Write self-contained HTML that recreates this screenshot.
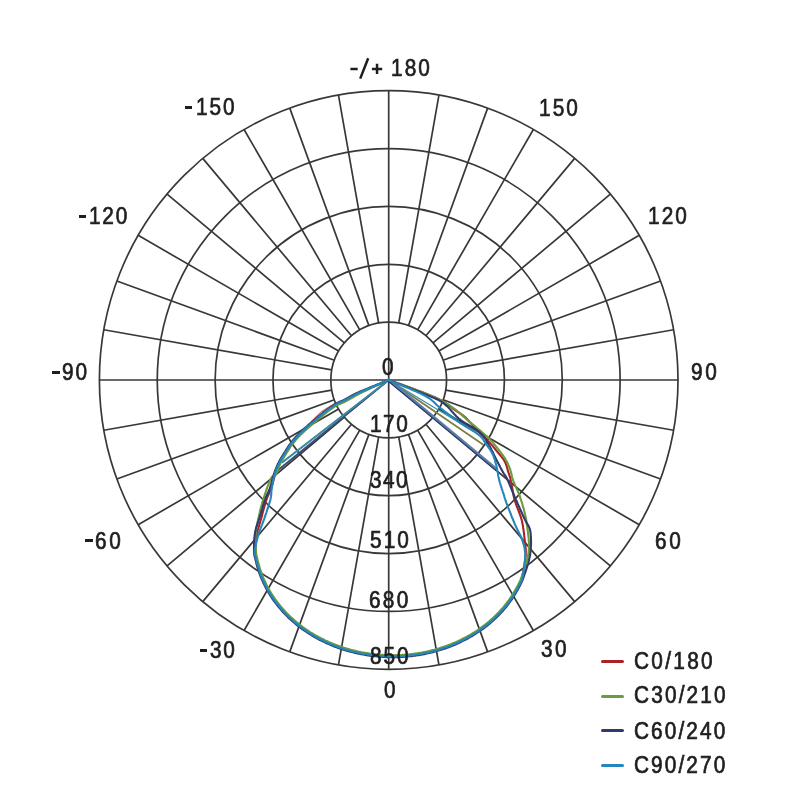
<!DOCTYPE html>
<html><head><meta charset="utf-8"><style>
html,body{margin:0;padding:0;background:#fff;}
body{width:800px;height:800px;position:relative;overflow:hidden;font-family:"Liberation Sans",sans-serif;}
svg{position:absolute;left:0;top:0;}
.t{position:absolute;font-size:23.1px;line-height:24px;color:#1e1e1e;white-space:nowrap;-webkit-text-stroke:0.7px #1e1e1e;transform-origin:0 0;}
</style></head><body>
<svg width="800" height="800" viewBox="0 0 800 800">
<circle cx="388.7" cy="380.0" r="57.86" fill="none" stroke="#383838" stroke-width="1.7"/>
<circle cx="388.7" cy="380.0" r="115.72" fill="none" stroke="#383838" stroke-width="1.7"/>
<circle cx="388.7" cy="380.0" r="173.58" fill="none" stroke="#383838" stroke-width="1.7"/>
<circle cx="388.7" cy="380.0" r="231.44" fill="none" stroke="#383838" stroke-width="1.7"/>
<circle cx="388.7" cy="380.0" r="289.30" fill="none" stroke="#383838" stroke-width="1.7"/>
<path d="M445.68 390.05L673.60 430.24M443.07 399.79L660.55 478.95M438.81 408.93L639.24 524.65M433.02 417.19L610.32 565.96M425.89 424.32L574.66 601.62M417.63 430.11L533.35 630.54M408.49 434.37L487.65 651.85M398.75 436.98L438.94 664.90M378.65 436.98L338.46 664.90M368.91 434.37L289.75 651.85M359.77 430.11L244.05 630.54M351.51 424.32L202.74 601.62M344.38 417.19L167.08 565.96M338.59 408.93L138.16 524.65M334.33 399.79L116.85 478.95M331.72 390.05L103.80 430.24M331.72 369.95L103.80 329.76M334.33 360.21L116.85 281.05M338.59 351.07L138.16 235.35M344.38 342.81L167.08 194.04M351.51 335.68L202.74 158.38M359.77 329.89L244.05 129.46M368.91 325.63L289.75 108.15M378.65 323.02L338.46 95.10M398.75 323.02L438.94 95.10M408.49 325.63L487.65 108.15M417.63 329.89L533.35 129.46M425.89 335.68L574.66 158.38M433.02 342.81L610.32 194.04M438.81 351.07L639.24 235.35M443.07 360.21L660.55 281.05M445.68 369.95L673.60 329.76M99.40 380.0L678.00 380.0M388.7 90.70L388.7 669.30" fill="none" stroke="#383838" stroke-width="1.7"/>
<path d="M388.70 380.00L283.50 461.20" fill="none" stroke="#6c9c3c" stroke-width="1.2" stroke-linejoin="round" stroke-linecap="round" opacity="1"/>
<path d="M388.70 380.60L277.00 471.60" fill="none" stroke="#a82228" stroke-width="1.0" stroke-linejoin="round" stroke-linecap="round" opacity="0.8"/>
<path d="M388.70 380.00L277.00 471.00" fill="none" stroke="#34507a" stroke-width="1.8" stroke-linejoin="round" stroke-linecap="round" opacity="1"/>
<path d="M388.70 380.00L282.50 462.30" fill="none" stroke="#3a8aa6" stroke-width="2.0" stroke-linejoin="round" stroke-linecap="round" opacity="1"/>
<path d="M388.70 380.00L483.00 444.50" fill="none" stroke="#7d7f45" stroke-width="1.8" stroke-linejoin="round" stroke-linecap="round" opacity="1"/>
<path d="M388.70 380.00L478.00 434.00" fill="none" stroke="#3f8fa8" stroke-width="1.4" stroke-linejoin="round" stroke-linecap="round" opacity="1"/>
<path d="M388.70 380.00L496.00 469.00" fill="none" stroke="#5a7fa5" stroke-width="3.2" stroke-linejoin="round" stroke-linecap="round" opacity="1"/>
<path d="M388.70 381.50L496.00 470.50" fill="none" stroke="#2f3b6c" stroke-width="1.2" stroke-linejoin="round" stroke-linecap="round" opacity="1"/>
<path d="M388.7 380.0L387.9 380.4L386.9 380.8L385.8 381.3L384.6 381.8L383.2 382.4L381.8 383.0L380.3 383.7L378.7 384.4L377.0 385.1L375.3 385.9L373.6 386.6L371.9 387.4L370.2 388.1L368.6 388.8L367.0 389.6L365.4 390.3L363.9 390.9L362.5 391.6L361.3 392.2L360.1 392.7L358.2 393.6L356.5 394.5L354.9 395.3L353.5 396.1L352.2 396.8L350.9 397.5L349.8 398.2L348.6 398.9L347.5 399.5L346.3 400.1L345.1 400.8L343.6 401.5L342.1 402.2L340.8 402.8L339.5 403.3L338.2 403.9L336.9 404.5L335.5 405.3L333.9 406.3L332.8 407.0L331.7 407.8L330.5 408.6L329.3 409.5L328.1 410.4L326.8 411.4L325.5 412.4L324.2 413.4L322.9 414.5L321.6 415.5L320.3 416.6L318.9 417.7L317.8 418.6L316.7 419.6L315.5 420.6L314.3 421.6L313.1 422.6L311.8 423.7L310.6 424.8L309.4 425.8L308.1 426.9L307.0 427.9L305.8 429.0L304.7 430.0L303.6 430.9L302.6 431.8L301.7 432.7L300.3 434.1L299.0 435.4L297.8 436.6L296.8 437.8L295.8 438.9L294.8 440.0L294.0 441.0L293.1 442.1L292.2 443.2L291.2 444.5L290.3 445.8L289.5 447.0L288.7 448.3L287.9 449.5L287.1 450.8L286.3 452.2L285.5 453.4L284.6 454.7L283.8 456.1L283.0 457.4L282.1 458.8L281.3 460.2L280.6 461.6L279.9 462.9L279.2 464.3L278.6 465.6L278.0 467.0L277.4 468.3L276.9 469.7L276.3 471.1L275.8 472.6L275.3 474.1L274.8 475.5L274.4 477.0L273.9 478.6L273.5 480.2L273.1 481.8L272.7 483.5L272.2 485.1L271.8 486.6L271.3 488.1L270.7 489.7L270.1 491.1L269.5 492.5L268.8 493.9L268.2 495.3L267.6 496.7L266.9 498.3L266.3 500.1L265.9 501.4L265.4 502.8L265.0 504.2L264.6 505.7L264.2 507.3L263.7 508.9L263.3 510.5L262.9 512.1L262.5 513.6L262.1 515.2L261.7 516.7L261.3 518.1L260.8 519.7L260.4 521.2L260.0 522.7L259.5 524.2L259.1 525.6L258.7 527.0L258.3 528.4L257.9 529.9L257.6 531.4L257.3 533.1L257.0 534.5L256.8 536.0L256.6 537.6L256.4 539.2L256.1 540.9L256.0 542.6L255.8 544.2L255.6 545.8L255.5 547.3L255.4 548.7L255.3 550.0L255.3 551.1L255.3 553.3L255.6 554.9L255.9 556.2L256.3 557.4L256.6 558.8L257.0 560.3L257.3 561.8L257.7 563.3L258.1 564.8L258.5 566.3L258.9 567.7L259.4 569.2L259.9 570.6L260.3 572.1L260.9 573.5L261.4 574.9L261.9 576.3L262.5 577.7L263.1 579.1L263.7 580.4L264.4 582.1L265.2 583.8L266.1 585.4L266.9 587.1L267.8 588.7L268.7 590.3L269.6 591.9L270.6 593.5L271.5 595.0L272.5 596.5L273.5 598.0L274.6 599.5L275.6 601.0L276.7 602.5L277.8 603.9L278.9 605.3L280.1 606.7L281.3 608.1L282.4 609.5L283.7 610.8L284.9 612.1L286.1 613.4L287.4 614.7L288.7 616.0L290.0 617.2L291.3 618.4L292.6 619.6L293.9 620.8L295.3 622.0L296.7 623.1L298.1 624.3L299.5 625.4L300.9 626.5L302.3 627.5L303.8 628.6L305.3 629.6L306.7 630.6L308.2 631.6L309.7 632.6L311.3 633.6L312.8 634.5L314.3 635.4L315.9 636.3L317.5 637.2L319.0 638.0L320.6 638.8L322.2 639.7L323.8 640.4L325.4 641.2L327.1 642.0L328.7 642.7L330.4 643.4L332.0 644.1L333.7 644.8L335.3 645.4L337.0 646.1L338.7 646.7L340.4 647.3L342.1 647.9L343.8 648.4L345.5 648.9L347.3 649.5L349.0 650.0L350.7 650.4L352.5 650.9L354.2 651.3L356.0 651.7L357.7 652.1L359.5 652.5L361.3 652.9L363.0 653.2L364.8 653.5L366.6 653.8L368.4 654.1L370.1 654.3L371.9 654.6L373.7 654.8L375.5 655.0L377.3 655.2L379.1 655.3L380.9 655.5L382.7 655.6L384.5 655.7L386.3 655.8L388.1 655.8L389.9 655.9L391.7 655.9L393.5 655.9L395.3 655.9L397.1 655.8L398.9 655.8L400.7 655.7L402.5 655.6L404.3 655.5L406.1 655.3L407.9 655.2L409.7 655.0L411.5 654.8L413.3 654.6L415.1 654.3L416.9 654.1L418.7 653.8L420.4 653.5L422.2 653.2L424.0 652.8L425.8 652.5L427.5 652.1L429.3 651.7L431.0 651.3L432.8 650.8L434.5 650.4L436.3 649.9L438.0 649.4L439.7 648.9L441.4 648.3L443.1 647.8L444.8 647.2L446.5 646.6L448.2 646.0L449.9 645.3L451.6 644.7L453.2 644.0L454.9 643.3L456.5 642.6L458.2 641.8L459.8 641.1L461.4 640.3L463.0 639.5L464.6 638.6L466.2 637.8L467.8 636.9L469.4 636.1L470.9 635.2L472.5 634.2L474.0 633.3L475.5 632.3L477.0 631.4L478.5 630.4L480.0 629.3L481.4 628.3L482.9 627.2L484.3 626.2L485.8 625.1L487.2 623.9L488.6 622.8L489.9 621.6L491.3 620.5L492.6 619.3L493.9 618.0L495.3 616.8L496.5 615.5L497.8 614.3L499.1 613.0L500.3 611.6L501.5 610.3L502.7 608.9L503.9 607.6L505.1 606.2L506.2 604.8L507.3 603.3L508.4 601.9L509.5 600.4L510.5 598.9L511.5 597.4L512.6 595.9L513.5 594.3L514.5 592.8L515.4 591.2L516.3 589.6L517.2 588.0L518.1 586.3L518.9 584.7L519.7 583.3L520.4 582.3L521.2 580.7L522.0 577.9L522.2 576.8L522.5 575.6L522.7 574.2L523.0 572.8L523.3 571.2L523.6 569.5L523.9 567.8L524.2 566.1L524.5 564.3L524.8 562.6L525.0 560.9L525.2 559.3L525.4 557.8L525.6 556.3L525.7 555.0L525.8 553.2L525.8 551.6L525.8 550.1L525.7 548.7L525.6 547.3L525.5 546.0L525.3 544.7L525.1 543.2L524.9 541.7L524.7 540.0L524.5 538.7L524.4 537.2L524.2 535.8L524.1 534.2L523.9 532.7L523.7 531.1L523.5 529.6L523.2 528.0L523.0 526.4L522.7 524.8L522.4 523.2L522.1 521.6L521.7 520.1L521.3 518.7L520.9 517.2L520.4 515.8L519.9 514.4L519.4 513.0L518.8 511.5L518.3 510.1L517.7 508.7L517.2 507.3L516.6 505.8L516.1 504.4L515.6 503.0L515.1 501.5L514.7 500.1L514.3 498.5L513.9 496.9L513.5 495.2L513.2 493.5L512.9 491.8L512.6 490.1L512.3 488.4L512.0 486.8L511.7 485.3L511.4 483.8L511.2 482.4L510.9 481.2L510.7 480.1L510.2 477.8L509.8 476.4L509.4 475.3L509.0 474.1L508.5 472.6L508.0 471.2L507.6 469.6L507.2 467.9L506.7 466.3L506.1 464.6L505.5 462.9L504.7 461.4L504.0 460.1L503.1 458.9L502.2 457.6L501.3 456.4L500.2 455.2L499.2 454.0L498.2 452.9L497.3 451.7L496.2 450.4L495.2 449.1L494.2 447.9L493.2 446.7L492.2 445.4L491.0 444.1L489.8 442.7L488.8 441.7L487.8 440.7L486.8 439.6L485.7 438.5L484.6 437.4L483.4 436.3L482.2 435.2L481.0 434.0L479.8 432.7L478.5 431.5L477.5 430.4L476.5 429.3L475.4 428.1L474.3 426.9L473.2 425.7L472.0 424.4L470.9 423.2L469.7 422.0L468.6 420.8L467.5 419.6L466.5 418.6L465.5 417.6L464.6 416.7L463.0 415.4L461.5 414.3L460.2 413.4L459.0 412.6L457.7 411.8L456.3 411.0L454.8 410.0L453.6 409.1L452.4 408.2L451.2 407.2L450.0 406.2L448.7 405.2L447.4 404.2L445.9 403.2L444.5 402.2L442.9 401.3L441.7 400.6L440.6 400.0L439.5 399.5L438.4 398.9L437.2 398.4L436.0 397.8L434.8 397.3L433.4 396.7L432.0 396.1L430.4 395.5L428.7 394.8L426.9 394.1L424.9 393.3L423.8 392.8L422.5 392.3L421.2 391.8L419.7 391.3L418.2 390.7L416.7 390.2L415.1 389.6L413.4 388.9L411.7 388.3L410.0 387.7L408.3 387.1L406.5 386.4L404.8 385.8L403.1 385.2L401.5 384.6L399.8 384.0L398.2 383.4L396.7 382.9L395.3 382.4L393.9 381.9L392.6 381.4L391.5 381.0L390.4 380.6L389.5 380.3L388.7 380.0" fill="none" stroke="#a82228" stroke-width="2.1" stroke-linejoin="round" stroke-linecap="round" opacity="1"/>
<path d="M388.7 380.0L387.9 380.4L386.9 380.8L385.9 381.3L384.6 381.9L383.3 382.5L381.8 383.1L380.3 383.8L378.7 384.6L377.1 385.3L375.4 386.1L373.7 386.9L372.1 387.6L370.4 388.4L368.7 389.2L367.1 389.9L365.6 390.7L364.1 391.4L362.7 392.0L361.5 392.6L360.3 393.2L358.5 394.2L356.8 395.0L355.3 395.9L353.8 396.7L352.5 397.5L351.3 398.2L350.1 398.8L348.9 399.5L347.8 400.1L346.6 400.8L345.5 401.4L343.9 402.2L342.4 402.8L341.1 403.4L339.8 403.9L338.5 404.5L337.2 405.1L335.8 405.9L334.3 406.8L333.2 407.6L332.1 408.3L330.9 409.2L329.7 410.1L328.5 411.0L327.2 411.9L326.0 412.9L324.7 414.0L323.4 415.0L322.1 416.1L320.7 417.2L319.4 418.3L318.3 419.2L317.1 420.1L316.0 421.1L314.8 422.1L313.5 423.2L312.3 424.2L311.1 425.3L309.8 426.4L308.6 427.4L307.4 428.5L306.3 429.5L305.2 430.5L304.1 431.4L303.1 432.4L302.2 433.2L300.8 434.6L299.5 435.9L298.4 437.1L297.3 438.2L296.3 439.3L295.4 440.4L294.5 441.5L293.6 442.6L292.8 443.6L291.8 444.9L290.9 446.2L290.0 447.4L289.3 448.6L288.5 449.9L287.7 451.2L286.8 452.5L286.1 453.8L285.2 455.1L284.4 456.4L283.6 457.8L282.7 459.1L282.0 460.5L281.2 461.9L280.5 463.2L279.9 464.6L279.3 466.1L278.7 467.6L278.2 469.2L277.6 470.7L277.1 472.1L276.5 473.4L275.8 474.6L274.3 475.9L273.0 476.3L272.2 476.6L270.8 478.5L270.5 479.4L270.0 480.4L269.5 481.7L268.9 483.0L268.4 484.4L267.8 485.9L267.2 487.5L266.7 489.2L266.1 490.8L265.5 492.5L264.9 494.1L264.4 495.8L263.9 497.3L263.4 498.9L263.0 500.3L262.5 501.9L262.0 503.5L261.6 505.1L261.1 506.7L260.7 508.3L260.3 509.9L259.9 511.5L259.6 513.0L259.2 514.5L258.9 516.0L258.6 517.4L258.3 518.8L258.0 520.2L257.6 521.9L257.3 523.5L257.0 525.0L256.7 526.5L256.4 527.9L256.2 529.3L255.9 530.7L255.8 532.1L255.6 533.6L255.5 535.1L255.4 536.6L255.4 538.3L255.4 540.0L255.4 541.8L255.5 543.5L255.6 545.2L255.7 546.8L255.8 548.4L255.9 549.8L256.0 551.1L256.2 553.1L256.4 554.7L256.7 556.0L257.0 557.3L257.3 558.7L257.6 560.2L258.0 561.7L258.4 563.1L258.8 564.6L259.2 566.1L259.6 567.5L260.0 569.0L260.5 570.4L261.0 571.8L261.5 573.2L262.0 574.6L262.6 576.0L263.1 577.4L263.7 578.8L264.3 580.1L265.1 581.8L265.9 583.5L266.7 585.1L267.5 586.7L268.4 588.4L269.3 590.0L270.2 591.5L271.1 593.1L272.1 594.6L273.1 596.1L274.1 597.6L275.1 599.1L276.2 600.6L277.3 602.0L278.4 603.5L279.5 604.9L280.6 606.3L281.8 607.6L283.0 609.0L284.2 610.3L285.4 611.6L286.6 612.9L287.9 614.2L289.1 615.5L290.4 616.7L291.7 617.9L293.1 619.1L294.4 620.3L295.8 621.5L297.1 622.6L298.5 623.7L299.9 624.8L301.3 625.9L302.8 627.0L304.2 628.0L305.7 629.1L307.1 630.1L308.6 631.0L310.1 632.0L311.6 633.0L313.2 633.9L314.7 634.8L316.2 635.7L317.8 636.5L319.4 637.4L320.9 638.2L322.5 639.0L324.1 639.8L325.7 640.6L327.4 641.3L329.0 642.1L330.6 642.8L332.3 643.5L333.9 644.1L335.6 644.8L337.3 645.4L339.0 646.0L340.6 646.6L342.3 647.2L344.0 647.7L345.7 648.3L347.5 648.8L349.2 649.3L350.9 649.8L352.6 650.2L354.4 650.6L356.1 651.1L357.9 651.5L359.6 651.8L361.4 652.2L363.1 652.5L364.9 652.8L366.7 653.1L368.5 653.4L370.2 653.7L372.0 653.9L373.8 654.1L375.6 654.3L377.4 654.5L379.2 654.6L380.9 654.8L382.7 654.9L384.5 655.0L386.3 655.1L388.1 655.1L389.9 655.2L391.7 655.2L393.5 655.2L395.3 655.2L397.1 655.1L398.9 655.1L400.7 655.0L402.5 654.9L404.3 654.8L406.1 654.6L407.9 654.5L409.7 654.3L411.4 654.1L413.2 653.9L415.0 653.6L416.8 653.4L418.6 653.1L420.3 652.8L422.1 652.5L423.9 652.1L425.6 651.8L427.4 651.4L429.1 651.0L430.9 650.6L432.6 650.1L434.3 649.7L436.1 649.2L437.8 648.7L439.5 648.2L441.2 647.6L442.9 647.1L444.6 646.5L446.3 645.9L448.0 645.3L449.7 644.7L451.3 644.0L453.0 643.3L454.6 642.6L456.3 641.9L457.9 641.2L459.5 640.4L461.1 639.6L462.7 638.8L464.3 638.0L465.9 637.2L467.5 636.3L469.0 635.5L470.6 634.6L472.1 633.6L473.6 632.7L475.1 631.8L476.6 630.8L478.1 629.8L479.6 628.8L481.0 627.7L482.5 626.7L483.9 625.6L485.3 624.5L486.7 623.4L488.1 622.3L489.5 621.1L490.8 619.9L492.2 618.7L493.5 617.5L494.8 616.3L496.1 615.0L497.3 613.8L498.6 612.5L499.8 611.2L501.0 609.8L502.2 608.5L503.4 607.1L504.5 605.7L505.6 604.3L506.7 602.9L507.8 601.5L508.9 600.0L509.9 598.5L511.0 597.0L512.0 595.5L512.9 594.0L513.9 592.4L514.8 590.8L515.7 589.2L516.6 587.6L517.5 586.0L518.3 584.4L519.0 582.9L519.7 581.7L520.4 580.1L521.3 577.6L521.7 576.5L522.1 575.3L522.6 573.9L523.2 572.4L523.7 570.8L524.2 569.2L524.8 567.5L525.3 565.9L525.8 564.3L526.3 562.7L526.7 561.2L527.0 559.8L527.4 558.2L527.7 556.7L528.0 555.2L528.3 553.9L528.5 552.5L528.7 551.1L528.8 549.7L528.9 548.2L529.0 546.7L529.0 545.0L529.0 543.6L528.9 542.2L528.8 540.7L528.7 539.1L528.6 537.5L528.4 535.9L528.2 534.3L528.0 532.7L527.8 531.1L527.6 529.5L527.4 528.0L527.2 526.5L527.0 525.1L526.8 523.5L526.5 521.9L526.3 520.3L526.0 518.9L525.7 517.4L525.4 516.0L525.1 514.6L524.8 513.2L524.4 511.8L524.0 510.3L523.7 508.8L523.3 507.4L522.8 505.9L522.4 504.5L522.0 503.0L521.5 501.5L521.0 500.0L520.5 498.6L520.1 497.1L519.6 495.7L519.1 494.3L518.5 492.9L517.9 491.4L517.3 490.0L516.6 488.5L516.0 487.1L515.3 485.7L514.7 484.3L514.1 483.0L513.6 481.6L513.1 480.3L512.5 478.5L512.0 476.8L511.6 475.1L511.3 473.5L510.9 472.0L510.5 470.5L510.1 469.1L509.5 467.6L508.9 466.2L508.3 464.8L507.7 463.4L507.0 462.0L506.3 460.7L505.6 459.5L504.9 458.2L504.1 457.1L503.4 456.0L502.6 454.9L501.6 453.6L500.5 452.1L499.7 451.1L498.8 449.9L497.8 448.7L496.9 447.5L495.8 446.2L494.8 444.9L493.7 443.6L492.7 442.4L491.7 441.2L490.8 440.2L489.7 439.0L488.6 438.0L487.6 437.0L486.6 436.1L485.5 435.2L484.4 434.2L483.2 433.2L481.8 432.0L480.8 431.1L479.7 430.2L478.5 429.2L477.3 428.2L476.1 427.2L474.8 426.1L473.5 425.0L472.2 424.0L470.9 422.9L469.6 421.8L468.4 420.8L467.2 419.8L466.0 418.7L464.8 417.7L463.6 416.6L462.4 415.6L461.2 414.5L460.1 413.5L458.9 412.5L457.7 411.5L456.6 410.5L455.5 409.6L454.4 408.8L453.0 407.8L451.7 406.9L450.5 406.0L449.3 405.2L448.1 404.5L446.9 403.8L445.5 403.0L444.1 402.2L442.5 401.4L441.4 400.8L440.3 400.2L439.2 399.6L438.0 399.0L436.9 398.5L435.7 397.9L434.5 397.3L433.1 396.7L431.7 396.0L430.1 395.4L428.5 394.7L426.6 393.9L424.7 393.1L423.5 392.7L422.3 392.2L421.0 391.7L419.6 391.2L418.1 390.6L416.5 390.0L414.9 389.4L413.3 388.8L411.6 388.2L409.9 387.6L408.2 387.0L406.4 386.3L404.7 385.7L403.0 385.1L401.4 384.5L399.8 384.0L398.2 383.4L396.7 382.9L395.2 382.3L393.9 381.9L392.6 381.4L391.5 381.0L390.4 380.6L389.5 380.3L388.7 380.0" fill="none" stroke="#6c9c3c" stroke-width="2.1" stroke-linejoin="round" stroke-linecap="round" opacity="1"/>
<path d="M388.7 380.0L387.9 380.3L386.9 380.7L385.8 381.2L384.5 381.7L383.2 382.2L381.7 382.8L380.1 383.4L378.5 384.1L376.8 384.7L375.1 385.4L373.4 386.1L371.7 386.8L370.0 387.5L368.3 388.2L366.6 388.9L365.1 389.5L363.6 390.1L362.1 390.7L360.8 391.3L359.7 391.8L357.7 392.7L356.0 393.5L354.4 394.3L352.9 395.0L351.6 395.7L350.3 396.4L349.1 397.1L348.0 397.7L346.8 398.4L345.7 399.0L344.5 399.6L343.0 400.4L341.6 401.0L340.3 401.6L339.0 402.1L337.7 402.7L336.3 403.4L334.8 404.2L333.2 405.2L332.1 405.9L330.9 406.7L329.7 407.6L328.5 408.5L327.3 409.4L326.0 410.4L324.7 411.4L323.4 412.4L322.1 413.5L320.8 414.5L319.5 415.6L318.1 416.7L317.0 417.6L315.9 418.6L314.7 419.6L313.5 420.6L312.2 421.6L311.0 422.7L309.7 423.8L308.5 424.8L307.3 425.9L306.1 427.0L304.9 428.0L303.8 429.0L302.8 430.0L301.7 430.9L300.8 431.8L299.4 433.2L298.1 434.5L296.9 435.7L295.8 436.9L294.8 438.0L293.9 439.1L293.0 440.2L292.1 441.3L291.2 442.4L290.2 443.8L289.2 445.1L288.4 446.3L287.6 447.6L286.8 448.8L286.0 450.1L285.2 451.5L284.4 452.7L283.5 454.0L282.7 455.4L281.9 456.7L281.0 458.1L280.2 459.5L279.4 460.9L278.7 462.4L278.0 463.7L277.4 465.1L276.8 466.5L276.2 467.8L275.7 469.2L275.1 470.6L274.6 472.1L274.1 473.7L273.6 475.1L273.1 476.7L272.7 478.3L272.3 479.9L271.8 481.5L271.4 483.1L271.0 484.7L270.5 486.2L270.1 487.7L269.5 489.2L268.9 490.6L268.3 492.0L267.7 493.3L267.0 494.7L266.4 496.2L265.7 497.9L265.1 499.7L264.6 501.0L264.1 502.4L263.7 503.8L263.2 505.4L262.7 506.9L262.3 508.5L261.8 510.1L261.3 511.7L260.9 513.3L260.4 514.8L260.0 516.3L259.5 517.7L259.0 519.3L258.5 520.8L258.0 522.3L257.5 523.7L257.0 525.2L256.5 526.6L256.1 528.1L255.7 529.6L255.3 531.2L255.0 532.8L254.8 534.3L254.6 535.9L254.4 537.5L254.3 539.1L254.2 540.8L254.1 542.5L254.1 544.1L254.0 545.7L254.0 547.3L254.0 548.7L254.0 550.0L254.0 551.2L254.1 553.5L254.3 555.2L254.7 556.6L255.0 557.8L255.4 559.1L255.7 560.6L256.1 562.1L256.4 563.6L256.8 565.1L257.2 566.6L257.7 568.1L258.1 569.6L258.6 571.0L259.1 572.5L259.6 573.9L260.2 575.4L260.7 576.8L261.3 578.2L261.9 579.6L262.5 580.9L263.3 582.7L264.1 584.4L264.9 586.0L265.8 587.7L266.6 589.3L267.6 590.9L268.5 592.5L269.4 594.1L270.4 595.7L271.4 597.2L272.5 598.8L273.5 600.3L274.6 601.8L275.7 603.2L276.8 604.7L277.9 606.1L279.1 607.5L280.3 608.9L281.5 610.3L282.7 611.7L283.9 613.0L285.2 614.3L286.5 615.6L287.7 616.9L289.1 618.2L290.4 619.4L291.7 620.6L293.1 621.8L294.5 623.0L295.9 624.2L297.3 625.3L298.7 626.4L300.1 627.5L301.6 628.6L303.0 629.7L304.5 630.7L306.0 631.7L307.5 632.7L309.0 633.7L310.6 634.7L312.1 635.6L313.7 636.5L315.2 637.4L316.8 638.3L318.4 639.2L320.0 640.0L321.6 640.8L323.3 641.6L324.9 642.4L326.5 643.2L328.2 643.9L329.8 644.6L331.5 645.3L333.2 646.0L334.9 646.7L336.6 647.3L338.3 647.9L340.0 648.5L341.7 649.1L343.4 649.7L345.2 650.2L346.9 650.7L348.6 651.2L350.4 651.7L352.1 652.1L353.9 652.6L355.7 653.0L357.4 653.4L359.2 653.8L361.0 654.1L362.8 654.5L364.6 654.8L366.4 655.1L368.2 655.4L370.0 655.6L371.8 655.9L373.6 656.1L375.4 656.3L377.2 656.5L379.0 656.6L380.8 656.8L382.6 656.9L384.4 657.0L386.3 657.1L388.1 657.1L389.9 657.2L391.7 657.2L393.5 657.2L395.3 657.2L397.2 657.1L399.0 657.1L400.8 657.0L402.6 656.9L404.4 656.8L406.2 656.6L408.1 656.4L409.9 656.3L411.7 656.1L413.5 655.8L415.3 655.6L417.1 655.3L418.9 655.1L420.7 654.8L422.5 654.4L424.2 654.1L426.0 653.7L427.8 653.3L429.6 652.9L431.3 652.5L433.1 652.1L434.9 651.6L436.6 651.1L438.4 650.6L440.1 650.1L441.8 649.6L443.6 649.0L445.3 648.4L447.0 647.8L448.7 647.2L450.4 646.5L452.1 645.9L453.7 645.2L455.4 644.5L457.1 643.7L458.7 643.0L460.4 642.2L462.0 641.4L463.6 640.6L465.2 639.8L466.8 639.0L468.4 638.1L470.0 637.2L471.6 636.3L473.1 635.4L474.7 634.4L476.2 633.4L477.7 632.4L479.2 631.4L480.7 630.4L482.2 629.4L483.7 628.3L485.1 627.2L486.6 626.1L488.0 624.9L489.4 623.8L490.8 622.6L492.1 621.4L493.5 620.2L494.8 619.0L496.2 617.7L497.5 616.5L498.7 615.2L500.0 613.9L501.3 612.5L502.5 611.2L503.7 609.8L504.9 608.4L506.1 607.0L507.2 605.6L508.3 604.1L509.4 602.6L510.5 601.2L511.6 599.7L512.6 598.1L513.6 596.6L514.6 595.0L515.6 593.4L516.5 591.8L517.5 590.2L518.4 588.6L519.2 586.9L520.1 585.3L520.8 583.8L521.5 582.5L522.2 580.9L523.2 578.3L523.6 577.2L524.0 575.9L524.5 574.5L525.0 573.0L525.6 571.5L526.1 569.8L526.7 568.2L527.2 566.5L527.7 564.8L528.2 563.2L528.6 561.7L529.0 560.2L529.3 558.6L529.7 557.0L530.0 555.5L530.2 553.9L530.4 552.4L530.6 551.0L530.7 549.5L530.8 548.0L530.9 546.5L531.0 545.0L531.0 543.5L531.1 541.9L531.0 540.3L531.0 538.7L530.9 537.1L530.8 535.6L530.7 534.0L530.5 532.5L530.3 531.1L530.0 529.8L529.5 528.1L528.9 526.6L528.2 525.4L527.5 524.2L526.7 522.9L525.8 521.4L524.9 519.6L524.4 518.5L523.8 517.2L523.2 516.0L522.6 514.6L522.0 513.2L521.3 511.7L520.6 510.2L519.9 508.7L519.3 507.1L518.6 505.6L517.9 504.1L517.2 502.5L516.6 501.0L515.9 499.6L515.3 498.1L514.6 496.6L514.0 495.1L513.3 493.5L512.7 492.0L512.0 490.4L511.4 488.8L510.8 487.3L510.1 485.8L509.5 484.4L509.0 483.1L508.4 481.8L507.9 480.6L507.4 479.6L506.3 477.3L505.4 475.8L504.6 474.7L503.8 473.6L502.9 472.0L502.2 470.8L501.5 469.6L500.8 468.2L500.0 466.8L499.3 465.3L498.5 463.8L497.7 462.3L496.9 460.8L496.1 459.3L495.5 458.0L494.9 456.7L494.2 455.3L493.6 454.0L493.0 452.6L492.3 451.3L491.6 449.9L490.9 448.5L490.2 447.1L489.4 445.7L488.6 444.5L487.9 443.3L487.2 442.0L486.5 440.8L485.7 439.5L484.9 438.3L484.0 437.0L483.0 435.7L481.9 434.5L480.7 433.2L479.4 432.0L478.3 431.1L477.2 430.2L475.9 429.4L474.6 428.5L473.3 427.7L471.9 426.9L470.5 426.1L469.0 425.3L467.6 424.4L466.2 423.6L464.8 422.8L463.4 421.9L462.1 421.0L460.8 420.1L459.6 419.2L458.5 418.3L457.4 417.2L456.3 416.2L455.2 415.1L454.2 414.0L453.2 412.8L452.1 411.7L451.1 410.5L450.1 409.4L449.1 408.2L448.0 407.1L447.0 406.1L445.9 405.1L444.7 404.1L443.6 403.2L442.3 402.3L441.1 401.5L439.9 400.8L438.7 400.1L437.5 399.5L436.3 398.9L435.0 398.4L433.7 397.8L432.3 397.3L430.8 396.6L429.2 396.0L427.4 395.2L425.4 394.3L424.3 393.9L423.1 393.4L421.8 392.9L420.4 392.3L418.9 391.8L417.4 391.2L415.9 390.5L414.3 389.9L412.6 389.3L410.9 388.6L409.3 388.0L407.6 387.3L405.9 386.7L404.2 386.0L402.6 385.4L401.0 384.7L399.4 384.1L397.9 383.6L396.4 383.0L395.0 382.5L393.7 381.9L392.5 381.5L391.4 381.0L390.4 380.6L389.5 380.3L388.7 380.0" fill="none" stroke="#2f3b6c" stroke-width="2.1" stroke-linejoin="round" stroke-linecap="round" opacity="1"/>
<path d="M388.7 380.0L387.9 380.3L386.9 380.8L385.8 381.2L384.6 381.8L383.2 382.3L381.8 382.9L380.2 383.6L378.6 384.3L377.0 385.0L375.3 385.7L373.5 386.4L371.8 387.1L370.1 387.9L368.5 388.6L366.8 389.3L365.3 390.0L363.8 390.6L362.4 391.2L361.1 391.8L359.9 392.4L358.0 393.3L356.3 394.1L354.7 394.9L353.3 395.7L351.9 396.4L350.7 397.1L349.5 397.8L348.4 398.4L347.2 399.1L346.1 399.7L344.9 400.3L343.4 401.1L341.9 401.7L340.6 402.3L339.3 402.8L338.0 403.4L336.6 404.1L335.2 404.9L333.6 405.8L332.5 406.6L331.4 407.4L330.2 408.2L329.0 409.1L327.8 410.0L326.5 411.0L325.2 412.0L323.9 413.0L322.6 414.1L321.3 415.2L320.0 416.2L318.6 417.3L317.5 418.3L316.4 419.2L315.2 420.2L314.0 421.2L312.8 422.3L311.5 423.3L310.3 424.4L309.0 425.4L307.8 426.5L306.6 427.6L305.5 428.6L304.4 429.6L303.3 430.6L302.3 431.5L301.4 432.4L299.9 433.7L298.7 435.0L297.5 436.3L296.4 437.4L295.4 438.6L294.5 439.6L293.6 440.7L292.7 441.8L291.8 442.9L290.8 444.2L289.9 445.5L289.0 446.8L288.2 448.0L287.5 449.2L286.7 450.5L285.8 451.9L285.0 453.2L284.2 454.5L283.4 455.8L282.5 457.2L281.7 458.5L280.9 459.9L280.1 461.3L279.4 462.7L278.7 464.1L278.1 465.4L277.5 466.8L276.9 468.1L276.3 469.5L275.8 470.9L275.3 472.4L274.8 473.9L274.4 475.4L274.0 476.9L273.6 478.5L273.3 480.1L272.9 481.7L272.6 483.3L272.3 484.9L272.1 486.5L271.8 488.0L271.6 489.5L271.4 490.9L271.3 492.3L271.3 493.6L271.2 495.0L271.0 496.5L270.7 498.1L270.3 500.0L270.0 501.1L269.6 502.4L269.2 503.8L268.8 505.2L268.3 506.7L267.8 508.2L267.3 509.7L266.8 511.3L266.3 512.8L265.7 514.4L265.2 515.8L264.7 517.3L264.3 518.6L263.8 519.9L263.2 521.6L262.6 523.2L262.0 524.8L261.4 526.2L260.9 527.7L260.3 529.1L259.8 530.5L259.3 531.9L258.8 533.4L258.3 534.9L257.9 536.4L257.5 537.9L257.1 539.5L256.7 541.1L256.3 542.7L255.9 544.3L255.6 545.8L255.3 547.3L255.1 548.7L254.9 550.0L254.8 551.1L254.7 553.2L255.0 554.9L255.3 556.3L255.8 557.5L256.1 558.9L256.5 560.4L256.8 561.9L257.2 563.4L257.6 564.9L258.0 566.4L258.5 567.9L258.9 569.3L259.4 570.8L259.9 572.2L260.4 573.7L260.9 575.1L261.5 576.5L262.0 577.9L262.6 579.3L263.2 580.6L264.0 582.3L264.8 584.0L265.6 585.7L266.5 587.3L267.3 588.9L268.2 590.5L269.2 592.1L270.1 593.7L271.1 595.3L272.1 596.8L273.1 598.3L274.2 599.8L275.2 601.3L276.3 602.8L277.4 604.2L278.6 605.6L279.7 607.0L280.9 608.4L282.1 609.8L283.3 611.1L284.5 612.5L285.8 613.8L287.0 615.1L288.3 616.3L289.6 617.6L290.9 618.8L292.3 620.0L293.6 621.2L295.0 622.4L296.4 623.5L297.8 624.7L299.2 625.8L300.6 626.9L302.1 627.9L303.5 629.0L305.0 630.0L306.5 631.1L308.0 632.0L309.5 633.0L311.0 634.0L312.5 634.9L314.1 635.8L315.6 636.7L317.2 637.6L318.8 638.5L320.4 639.3L322.0 640.1L323.6 640.9L325.2 641.7L326.9 642.4L328.5 643.2L330.2 643.9L331.8 644.6L333.5 645.3L335.2 645.9L336.9 646.5L338.5 647.2L340.3 647.8L342.0 648.3L343.7 648.9L345.4 649.4L347.1 649.9L348.9 650.4L350.6 650.9L352.3 651.4L354.1 651.8L355.9 652.2L357.6 652.6L359.4 653.0L361.2 653.4L362.9 653.7L364.7 654.0L366.5 654.3L368.3 654.6L370.1 654.8L371.9 655.1L373.7 655.3L375.5 655.5L377.3 655.7L379.1 655.8L380.9 656.0L382.7 656.1L384.5 656.2L386.3 656.3L388.1 656.3L389.9 656.4L391.7 656.4L393.5 656.4L395.3 656.4L397.1 656.3L399.0 656.3L400.8 656.2L402.6 656.1L404.4 656.0L406.2 655.8L408.0 655.7L409.8 655.5L411.6 655.3L413.4 655.0L415.2 654.8L417.0 654.5L418.7 654.3L420.5 654.0L422.3 653.6L424.1 653.3L425.9 652.9L427.6 652.6L429.4 652.2L431.1 651.7L432.9 651.3L434.6 650.8L436.4 650.4L438.1 649.9L439.9 649.3L441.6 648.8L443.3 648.2L445.0 647.6L446.7 647.0L448.4 646.4L450.1 645.8L451.8 645.1L453.4 644.4L455.1 643.7L456.8 643.0L458.4 642.3L460.0 641.5L461.7 640.7L463.3 639.9L464.9 639.1L466.5 638.2L468.0 637.4L469.6 636.5L471.2 635.6L472.7 634.7L474.3 633.7L475.8 632.8L477.3 631.8L478.8 630.8L480.3 629.7L481.7 628.7L483.2 627.6L484.6 626.6L486.1 625.4L487.5 624.3L488.9 623.2L490.3 622.0L491.6 620.8L493.0 619.6L494.3 618.4L495.6 617.2L496.9 615.9L498.2 614.6L499.4 613.3L500.7 612.0L501.9 610.6L503.1 609.3L504.3 607.9L505.4 606.5L506.6 605.1L507.7 603.6L508.8 602.2L509.9 600.7L510.9 599.2L512.0 597.7L513.0 596.2L514.0 594.6L514.9 593.0L515.9 591.4L516.8 589.8L517.7 588.2L518.5 586.6L519.3 584.9L520.1 583.6L520.9 582.5L521.7 580.9L522.4 578.0L522.6 576.9L522.9 575.7L523.1 574.3L523.3 572.8L523.6 571.3L523.8 569.6L524.1 567.9L524.3 566.2L524.5 564.4L524.7 562.7L524.9 561.0L525.0 559.4L525.1 557.8L525.2 556.3L525.2 555.0L525.2 553.2L525.0 551.5L524.8 549.9L524.6 548.4L524.3 547.0L524.0 545.6L523.6 544.2L523.1 542.8L522.7 541.4L522.2 539.9L521.7 538.6L521.2 537.3L520.6 536.0L520.0 534.7L519.3 533.4L518.7 532.1L518.0 530.7L517.3 529.4L516.6 527.9L515.9 526.5L515.2 524.9L514.6 523.6L514.1 522.3L513.5 520.8L512.9 519.3L512.2 517.8L511.6 516.3L511.0 514.7L510.4 513.2L509.8 511.7L509.2 510.2L508.7 508.8L508.1 507.4L507.6 506.1L507.2 504.9L506.5 503.1L505.9 501.4L505.4 499.9L504.9 498.5L504.5 497.2L504.1 495.8L503.7 494.4L503.2 492.9L502.7 491.5L502.3 490.2L501.8 488.8L501.4 487.3L500.9 485.9L500.5 484.5L500.0 483.0L499.6 481.5L499.2 480.0L498.9 478.5L498.5 477.0L498.2 475.5L498.0 473.9L497.7 472.4L497.4 470.8L497.1 469.3L496.8 467.8L496.5 466.3L496.2 465.0L495.7 463.1L495.2 461.4L494.8 459.7L494.2 458.2L493.7 456.6L493.1 455.1L492.4 453.7L491.7 452.3L490.9 450.9L490.1 449.7L489.2 448.4L488.3 447.2L487.4 445.9L486.4 444.6L485.6 443.5L484.9 442.3L484.2 441.1L483.5 440.0L482.6 438.7L481.6 437.5L480.4 436.2L478.9 434.8L477.9 434.1L476.8 433.3L475.6 432.5L474.4 431.7L473.0 430.8L471.7 430.0L470.3 429.2L468.8 428.3L467.4 427.4L465.9 426.5L464.4 425.6L463.0 424.7L461.5 423.8L460.1 422.8L458.9 422.0L457.6 421.1L456.4 420.2L455.1 419.2L453.8 418.3L452.5 417.3L451.2 416.3L449.9 415.3L448.6 414.4L447.3 413.4L446.0 412.4L444.8 411.5L443.6 410.5L442.4 409.6L441.2 408.7L440.1 407.8L438.8 406.8L437.6 405.7L436.5 404.7L435.6 403.8L434.6 402.8L433.7 401.9L432.6 401.0L431.5 400.0L430.2 399.0L428.8 398.0L427.1 397.0L425.1 395.8L424.0 395.3L422.9 394.7L421.6 394.1L420.3 393.4L418.9 392.8L417.4 392.1L415.9 391.4L414.3 390.7L412.6 390.0L411.0 389.3L409.3 388.6L407.6 387.9L405.9 387.2L404.3 386.5L402.6 385.8L401.0 385.1L399.4 384.5L397.9 383.8L396.4 383.2L395.0 382.7L393.7 382.1L392.5 381.6L391.4 381.1L390.4 380.7L389.5 380.3L388.7 380.0" fill="none" stroke="#2586bc" stroke-width="2.1" stroke-linejoin="round" stroke-linecap="round" opacity="1"/>
<path d="M333.00 405.00C331.25 406.00 326.00 408.33 322.50 411.00C319.00 413.67 313.75 419.33 312.00 421.00" fill="none" stroke="#a82228" stroke-width="1.2" stroke-linejoin="round" stroke-linecap="round" opacity="0.6"/>
<path d="M350.4 68.9H357.7M368.2 58.2L360.2 78.6M371.9 68.9H382.2M377.05 63.8V74" stroke="#1e1e1e" stroke-width="2.5" fill="none"/>
</svg>
<div class="t" style="left:391.05px;top:56.10px;letter-spacing:2.35px;transform:translateZ(0) scaleX(0.9)">180</div>
<div class="t" style="left:195.65px;top:95.10px;letter-spacing:2.12px;transform:translateZ(0) scaleX(0.9)">150</div>
<div class="t" style="left:539.05px;top:95.50px;letter-spacing:2.35px;transform:translateZ(0) scaleX(0.9)">150</div>
<div class="t" style="left:88.95px;top:203.70px;letter-spacing:2.01px;transform:translateZ(0) scaleX(0.9)">120</div>
<div class="t" style="left:648.15px;top:203.50px;letter-spacing:2.35px;transform:translateZ(0) scaleX(0.9)">120</div>
<div class="t" style="left:61.88px;top:360.00px;letter-spacing:2.22px;transform:translateZ(0) scaleX(0.9)">90</div>
<div class="t" style="left:690.88px;top:360.00px;letter-spacing:3.00px;transform:translateZ(0) scaleX(0.9)">90</div>
<div class="t" style="left:94.75px;top:528.50px;letter-spacing:2.92px;transform:translateZ(0) scaleX(0.9)">60</div>
<div class="t" style="left:654.75px;top:528.50px;letter-spacing:2.92px;transform:translateZ(0) scaleX(0.9)">60</div>
<div class="t" style="left:209.80px;top:637.50px;letter-spacing:1.75px;transform:translateZ(0) scaleX(0.9)">30</div>
<div class="t" style="left:540.75px;top:637.30px;letter-spacing:2.81px;transform:translateZ(0) scaleX(0.9)">30</div>
<div class="t" style="left:383.95px;top:678.10px;letter-spacing:0.00px;transform:translateZ(0) scaleX(0.9)">0</div>
<div class="t" style="left:382.30px;top:354.90px;letter-spacing:0.00px;transform:translateZ(0) scaleX(0.9)">0</div>
<div class="t" style="left:369.75px;top:411.80px;letter-spacing:1.68px;transform:translateZ(0) scaleX(0.9)">170</div>
<div class="t" style="left:370.40px;top:468.00px;letter-spacing:1.54px;transform:translateZ(0) scaleX(0.9)">340</div>
<div class="t" style="left:369.50px;top:528.25px;letter-spacing:2.32px;transform:translateZ(0) scaleX(0.9)">510</div>
<div class="t" style="left:369.25px;top:587.60px;letter-spacing:2.57px;transform:translateZ(0) scaleX(0.9)">680</div>
<div class="t" style="left:369.88px;top:643.90px;letter-spacing:2.22px;transform:translateZ(0) scaleX(0.9)">850</div>
<div class="t" style="left:633.85px;top:649.10px;letter-spacing:2.57px;transform:translateZ(0) scaleX(0.9)">C0/180</div>
<div class="t" style="left:633.85px;top:683.25px;letter-spacing:2.41px;transform:translateZ(0) scaleX(0.9)">C30/210</div>
<div class="t" style="left:633.85px;top:719.10px;letter-spacing:2.34px;transform:translateZ(0) scaleX(0.9)">C60/240</div>
<div class="t" style="left:633.85px;top:753.25px;letter-spacing:2.34px;transform:translateZ(0) scaleX(0.9)">C90/270</div>
<div style="position:absolute;left:185.25px;top:106.40px;width:7.15px;height:2.7px;background:#1e1e1e"></div>
<div style="position:absolute;left:78.80px;top:215.15px;width:7.20px;height:2.7px;background:#1e1e1e"></div>
<div style="position:absolute;left:52.00px;top:371.15px;width:7.50px;height:2.7px;background:#1e1e1e"></div>
<div style="position:absolute;left:85.00px;top:539.15px;width:7.50px;height:2.7px;background:#1e1e1e"></div>
<div style="position:absolute;left:199.60px;top:649.15px;width:7.20px;height:2.7px;background:#1e1e1e"></div>
<div style="position:absolute;left:600.5px;top:660.3px;width:23.5px;height:3.2px;border-radius:1.6px;background:#a82228"></div>
<div style="position:absolute;left:600.5px;top:694.5px;width:23.5px;height:3.2px;border-radius:1.6px;background:#6c9c3c"></div>
<div style="position:absolute;left:600.5px;top:729.3px;width:23.5px;height:3.2px;border-radius:1.6px;background:#2f3b6c"></div>
<div style="position:absolute;left:600.5px;top:763.7px;width:23.5px;height:3.2px;border-radius:1.6px;background:#2586bc"></div>
</body></html>
